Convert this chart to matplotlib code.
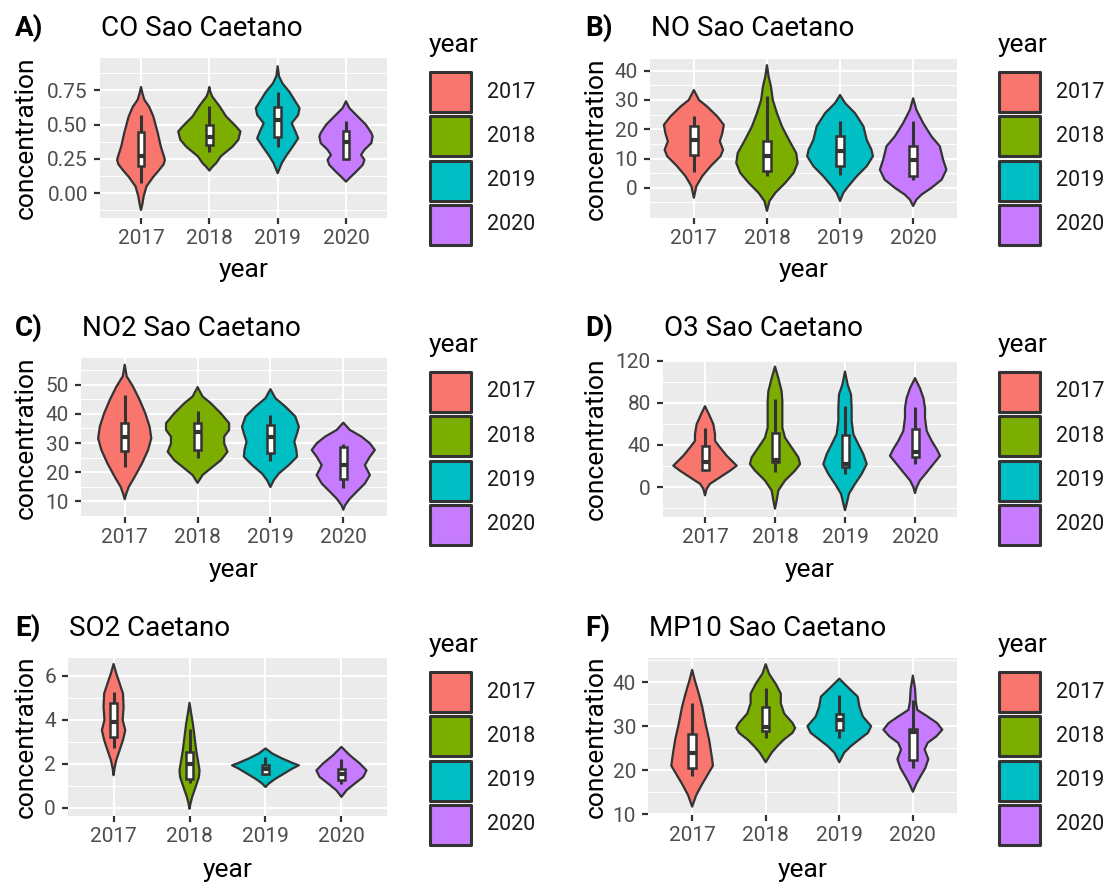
import matplotlib
matplotlib.use("Agg")
import matplotlib.pyplot as plt
from matplotlib.patches import Rectangle
import numpy as np

plt.rcParams['font.family'] = ['Roboto', 'DejaVu Sans']

W, H = 1111, 883

years = ["2017", "2018", "2019", "2020"]
fills = ["#F8766D", "#7CAE00", "#00BFC4", "#C77CFF"]

# ---- violin outlines: concentration levels (top to bottom) and half widths ----
# box stats per year: [lower whisker, q1, median, q3, upper whisker]

# CO
co_y = [
    [0.774, 0.72, 0.68, 0.63, 0.56, 0.44, 0.34, 0.27, 0.243, 0.21, 0.16, 0.12, 0.05, -0.02, -0.08, -0.122],
    [0.774, 0.74, 0.706, 0.633, 0.56, 0.487, 0.45, 0.39, 0.34, 0.27, 0.22, 0.19, 0.165],
    [0.925, 0.852, 0.80, 0.74, 0.68, 0.62, 0.57, 0.51, 0.45, 0.40, 0.34, 0.28, 0.22, 0.146],
    [0.67, 0.62, 0.56, 0.50, 0.44, 0.414, 0.365, 0.317, 0.28, 0.243, 0.207, 0.158, 0.12, 0.085],
]
co_w = [
    [0, 0.025, 0.05, 0.12, 0.18, 0.245, 0.29, 0.335, 0.35, 0.33, 0.25, 0.18, 0.08, 0.04, 0.02, 0],
    [0, 0.015, 0.04, 0.15, 0.245, 0.39, 0.455, 0.425, 0.34, 0.17, 0.1, 0.04, 0],
    [0, 0.02, 0.07, 0.17, 0.245, 0.32, 0.30, 0.205, 0.26, 0.30, 0.22, 0.135, 0.06, 0],
    [0, 0.05, 0.17, 0.29, 0.37, 0.39, 0.37, 0.27, 0.22, 0.27, 0.245, 0.15, 0.07, 0],
]
co_box = [
    [0.078, 0.195, 0.27, 0.443, 0.57],
    [0.30, 0.348, 0.407, 0.497, 0.633],
    [0.34, 0.41, 0.53, 0.628, 0.74],
    [0.24, 0.248, 0.377, 0.45, 0.524],
]

# NO
no_y = [
    [33.4, 30, 27.8, 24.4, 21.5, 18.7, 15.9, 13, 10.8, 7.4, 4, 0.6, -3.4],
    [41.9, 38, 34.6, 30, 25.5, 21, 16.4, 11.9, 8.5, 5.1, 1.7, -1.7, -4.5, -7.9],
    [31.7, 28.9, 25.5, 21, 16.4, 13, 10.8, 7.4, 4, 0.6, -1.7, -4.5],
    [30.6, 26.6, 22.1, 17.6, 14.2, 9.6, 6.2, 2.8, 0, -2.3, -4, -6.2],
]
no_w = [
    [0, 0.07, 0.18, 0.32, 0.41, 0.39, 0.355, 0.40, 0.365, 0.23, 0.115, 0.035, 0],
    [0, 0.023, 0.055, 0.08, 0.137, 0.205, 0.30, 0.40, 0.42, 0.365, 0.25, 0.115, 0.035, 0],
    [0, 0.07, 0.205, 0.32, 0.365, 0.43, 0.45, 0.365, 0.23, 0.115, 0.045, 0],
    [0, 0.045, 0.137, 0.25, 0.365, 0.41, 0.455, 0.39, 0.25, 0.115, 0.045, 0],
]
no_box = [
    [5.4, 11.3, 16.4, 21.2, 24.6],
    [4.0, 5.7, 10.8, 15.9, 31.2],
    [4.5, 7.4, 12.5, 17.6, 22.7],
    [2.8, 4.0, 9.6, 14.2, 22.7],
]

# NO2
no2_y = [
    [56.9, 52.9, 49.4, 44.8, 40.2, 35.6, 31.6, 27.6, 23, 18.4, 14.9, 12.5, 10.7],
    [49.2, 46, 43.7, 40.2, 36.8, 34.5, 32.2, 29.9, 27, 24.1, 21.3, 19, 16.3],
    [48.5, 45.4, 42.5, 39.1, 35.6, 33.3, 30.5, 27.6, 25.3, 22.4, 19.5, 17.2, 14.9],
    [37, 34.5, 32.2, 29.9, 27.6, 25.3, 22.4, 19, 16.1, 13.2, 10.9, 8.6, 7.1],
]
no2_w = [
    [0, 0.027, 0.114, 0.205, 0.283, 0.342, 0.365, 0.32, 0.237, 0.137, 0.055, 0.02, 0],
    [0, 0.068, 0.18, 0.32, 0.433, 0.433, 0.365, 0.365, 0.41, 0.32, 0.18, 0.068, 0],
    [0, 0.068, 0.205, 0.342, 0.39, 0.365, 0.328, 0.356, 0.365, 0.25, 0.114, 0.045, 0],
    [0, 0.09, 0.25, 0.365, 0.433, 0.365, 0.296, 0.365, 0.296, 0.18, 0.09, 0.023, 0],
]
no2_box = [
    [21.8, 27.4, 32.2, 36.8, 46.6],
    [24.7, 27.6, 33.9, 37.0, 41.0],
    [23.9, 26.7, 32.2, 36.2, 39.7],
    [14.4, 17.8, 22.4, 28.7, 29.5],
]

# O3
o3_y = [
    [76.8, 69, 59.6, 50.2, 43.9, 37.6, 29.8, 23.5, 20.4, 15.7, 9.4, 3.1, -1.6, -7.8],
    [114.4, 103.4, 90.9, 81.5, 69, 56.4, 47, 37.6, 28.2, 21.9, 15.7, 6.3, -3.1, -12.5, -20.4],
    [109.7, 97.2, 87.8, 75.2, 62.7, 50.2, 40.8, 31.3, 21.9, 12.5, 3.1, -6.3, -15.7, -21.9],
    [103.4, 94, 84.6, 75.2, 65.8, 53.3, 43.9, 36.1, 29.8, 21.9, 14.1, 6.3, 0, -5.6],
]
o3_w = [
    [0, 0.057, 0.12, 0.143, 0.143, 0.215, 0.31, 0.405, 0.453, 0.36, 0.215, 0.07, 0.024, 0],
    [0, 0.048, 0.095, 0.105, 0.105, 0.105, 0.143, 0.238, 0.334, 0.358, 0.286, 0.143, 0.048, 0.024, 0],
    [0, 0.038, 0.086, 0.095, 0.095, 0.12, 0.19, 0.262, 0.31, 0.238, 0.143, 0.057, 0.024, 0],
    [0, 0.07, 0.12, 0.143, 0.143, 0.167, 0.238, 0.31, 0.358, 0.262, 0.167, 0.07, 0.024, 0],
]
o3_box = [
    [15.7, 16.3, 23.5, 38.6, 56.4],
    [14.1, 23.5, 25.7, 51.7, 83.7],
    [12.5, 18.8, 21.9, 49.2, 76.8],
    [21.9, 28.2, 32.9, 54.9, 75.9],
]

# SO2
so2_y = [
    [6.55, 6.12, 5.66, 5.2, 4.6, 3.99, 3.53, 3.08, 2.62, 2.16, 1.8, 1.48],
    [4.78, 4.29, 3.84, 3.23, 2.62, 2.16, 1.7, 1.4, 0.94, 0.49, 0.2, -0.05],
    [2.7, 2.47, 2.24, 2.01, 1.93, 1.78, 1.55, 1.32, 1.1, 0.94],
    [2.77, 2.39, 2.01, 1.7, 1.4, 1.1, 0.79, 0.49],
]
so2_w = [
    [0, 0.035, 0.08, 0.124, 0.132, 0.12, 0.154, 0.124, 0.08, 0.035, 0.013, 0],
    [0, 0.022, 0.044, 0.066, 0.088, 0.11, 0.132, 0.124, 0.08, 0.035, 0.013, 0],
    [0, 0.088, 0.22, 0.375, 0.44, 0.353, 0.243, 0.132, 0.044, 0],
    [0, 0.11, 0.243, 0.33, 0.287, 0.176, 0.066, 0],
]
so2_box = [
    [2.7, 3.2, 3.91, 4.78, 5.28],
    [1.12, 1.32, 2.0, 2.54, 3.6],
    [1.48, 1.55, 1.75, 1.93, 2.31],
    [1.1, 1.25, 1.55, 1.78, 2.24],
]

# MP10
mp10_y = [
    [42.8, 40.4, 37.4, 34.4, 30.7, 27, 23.3, 21, 18.8, 16.6, 14.3, 11.7],
    [44.1, 41.9, 39.6, 37.4, 35.2, 32.9, 30.7, 29.6, 28.5, 27, 25.5, 24, 21.8],
    [40.8, 38.9, 36.7, 34.4, 32.2, 30, 28.5, 27, 25.5, 24, 21.8],
    [41.5, 38.5, 35.5, 33.7, 32.2, 30.7, 29.2, 27.7, 26.2, 24.7, 22.5, 20.5, 18.5, 17, 15.1],
]
mp10_w = [
    [0, 0.037, 0.09, 0.137, 0.18, 0.23, 0.265, 0.283, 0.205, 0.128, 0.055, 0],
    [0, 0.046, 0.137, 0.205, 0.205, 0.25, 0.365, 0.40, 0.365, 0.25, 0.16, 0.082, 0],
    [0, 0.114, 0.25, 0.274, 0.32, 0.433, 0.39, 0.274, 0.16, 0.068, 0],
    [0, 0.03, 0.04, 0.06, 0.2, 0.33, 0.40, 0.32, 0.2, 0.16, 0.21, 0.17, 0.1, 0.05, 0],
]
mp10_box = [
    [18.6, 20.6, 23.9, 28.3, 35.3],
    [27.3, 28.8, 29.8, 34.4, 38.7],
    [27.3, 29.1, 31.3, 32.8, 37.0],
    [20.6, 22.3, 28.7, 29.3, 35.9],
]

tags = ["A)", "B)", "C)", "D)", "E)", "F)"]
titles = ["CO Sao Caetano", "NO Sao Caetano", "NO2 Sao Caetano",
          "O3 Sao Caetano", "SO2 Caetano", "MP10 Sao Caetano"]

# y scale settings per panel
co_ticks, co_minor, co_lim = [0, 0.25, 0.5, 0.75], [-0.125, 0.125, 0.375, 0.625, 0.875], (-0.18, 0.985)
no_ticks, no_minor, no_lim = [0, 10, 20, 30, 40], [-5, 5, 15, 25, 35], (-10.3, 44.0)
no2_ticks, no2_minor, no2_lim = [10, 20, 30, 40, 50], [5, 15, 25, 35, 45, 55], (4.6, 59.2)
o3_ticks, o3_minor, o3_lim = [0, 40, 80, 120], [-20, 20, 60, 100], (-28.3, 120.6)
so2_ticks, so2_minor, so2_lim = [0, 2, 4, 6], [1, 3, 5], (-0.38, 6.82)
mp10_ticks, mp10_minor, mp10_lim = [10, 20, 30, 40], [15, 25, 35, 45], (9.8, 45.5)

DARK = "#333333"


def fx(x):
    return x / W


def fy(y):
    return 1 - y / H


def draw_panel(ax, prof_y, prof_w, boxes, ticks, minors, lim, fmt):
    ax.set_facecolor("#EBEBEB")
    for s in ax.spines.values():
        s.set_visible(False)
    ax.set_xlim(0.4, 4.6)
    ax.set_ylim(*lim)
    ax.set_xticks(range(1, 5))
    ax.set_xticklabels(years)
    ax.set_yticks(ticks)
    ax.set_yticklabels([fmt.format(t) for t in ticks])
    ax.set_yticks(minors, minor=True)
    ax.tick_params(axis="y", which="minor", length=0)
    ax.tick_params(axis="both", which="major", length=4.2, width=1.6, color=DARK,
                   labelsize=15, labelcolor="#4D4D4D")
    ax.tick_params(axis="y", which="major", pad=4.5)
    ax.tick_params(axis="x", which="major", pad=4)
    ax.grid(True, which="major", color="white", linewidth=1.4, zorder=0)
    ax.grid(True, which="minor", axis="y", color="white", linewidth=0.7, zorder=0)
    ax.set_axisbelow(True)
    for i in range(4):
        pos = i + 1
        ys = np.asarray(prof_y[i], dtype=float)
        ws = np.asarray(prof_w[i], dtype=float)
        xs = np.concatenate([pos - ws, (pos + ws)[::-1]])
        yy = np.concatenate([ys, ys[::-1]])
        ax.fill(xs, yy, facecolor=fills[i], edgecolor=DARK, linewidth=1.6,
                joinstyle="round", zorder=3)
        lo, q1, med, q3, hi = boxes[i]
        bw = 0.1
        ax.plot([pos, pos], [q3, hi], color=DARK, lw=2.2, zorder=4, solid_capstyle="butt")
        ax.plot([pos, pos], [lo, q1], color=DARK, lw=2.2, zorder=4, solid_capstyle="butt")
        ax.add_patch(Rectangle((pos - bw / 2, q1), bw, q3 - q1, facecolor="white",
                               edgecolor=DARK, lw=1.8, zorder=5))
        ax.plot([pos - bw / 2, pos + bw / 2], [med, med], color=DARK, lw=3.0,
                zorder=6, solid_capstyle="butt")


fig = plt.figure(figsize=(W / 100, H / 100), dpi=100)

panels = [
    ((100, 58, 387, 218), co_y, co_w, co_box, co_ticks, co_minor, co_lim, "{:.2f}"),
    ((650, 59, 957, 218), no_y, no_w, no_box, no_ticks, no_minor, no_lim, "{:d}"),
    ((81, 358, 387, 517), no2_y, no2_w, no2_box, no2_ticks, no2_minor, no2_lim, "{:d}"),
    ((663, 360, 957, 517), o3_y, o3_w, o3_box, o3_ticks, o3_minor, o3_lim, "{:d}"),
    ((68, 658, 387, 816), so2_y, so2_w, so2_box, so2_ticks, so2_minor, so2_lim, "{:d}"),
    ((648, 658, 957, 815), mp10_y, mp10_w, mp10_box, mp10_ticks, mp10_minor, mp10_lim, "{:d}"),
]

for k, (rect, py, pw, bx, tk, mn, lm, fmt) in enumerate(panels):
    x0, y0, x1, y1 = rect
    ax = fig.add_axes([fx(x0), fy(y1), (x1 - x0) / W, (y1 - y0) / H])
    draw_panel(ax, py, pw, bx, tk, mn, lm, fmt)

    col = k % 2
    row = k // 2
    off_y = 300 * row
    base_x = 0 if col == 0 else 570

    # tag and title
    fig.text(fx(15 + base_x), fy(36 + off_y), tags[k], fontsize=20, fontweight="bold",
             color="black", ha="left", va="baseline")
    fig.text(fx(x0 + 1), fy(36 + off_y), titles[k], fontsize=20, color="black",
             ha="left", va="baseline")

    # axis titles
    fig.text(fx(26 + base_x), fy((y0 + y1) / 2), "concentration", fontsize=19,
             rotation=90, ha="center", va="center", color="black")
    fig.text(fx((x0 + x1) / 2), fy(277 + off_y), "year", fontsize=19,
             ha="center", va="baseline", color="black")

    # legend
    lx = 429 if col == 0 else 998
    fig.text(fx(lx), fy(52 + off_y), "year", fontsize=19, ha="left", va="baseline",
             color="black")
    for i in range(4):
        top = 72 + off_y + 44.3 * i
        fig.add_artist(Rectangle((fx(lx + 1), fy(top + 40)), 41 / W, 40 / H,
                                 transform=fig.transFigure, facecolor=fills[i],
                                 edgecolor=DARK, linewidth=2.2, joinstyle="round"))
        fig.text(fx(lx + 58), fy(top + 20), years[i], fontsize=15.5, ha="left",
                 va="center", color="#1A1A1A")

fig.savefig("out.png", dpi=100, facecolor="white")
